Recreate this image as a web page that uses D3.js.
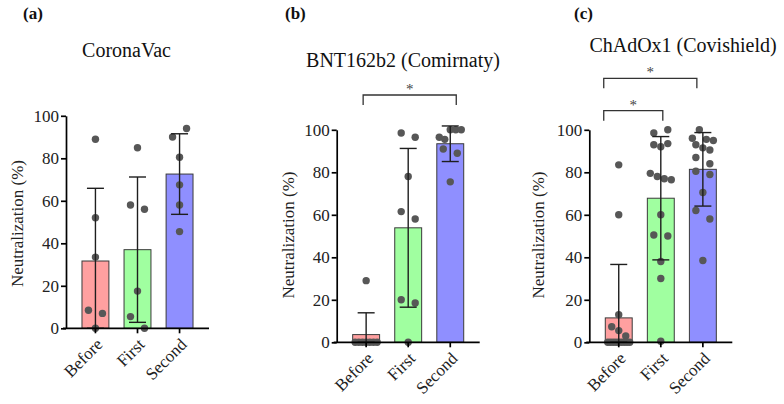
<!DOCTYPE html>
<html>
<head>
<meta charset="utf-8">
<script src="https://cdn.jsdelivr.net/npm/d3@7"></script>
</head>
<body style="margin:0">
<svg id="chart" width="784" height="404"></svg>
<script>
// ---------------- DATA ----------------
const categories = ["Before", "First", "Second"];
const panelLabels = ["(a)", "(b)", "(c)"];
const titles = ["CoronaVac", "BNT162b2 (Comirnaty)", "ChAdOx1 (Covishield)"];
const yTicks = [0, 20, 40, 60, 80, 100];
const yLabel = "Neutralization (%)";

// (a) CoronaVac – individual neutralization values (%)
const coronaVacBefore = [89, 52, 33.5, 8.5, 7, 0];
const coronaVacFirst  = [85, 58, 56, 17.5, 5.5, 0];
const coronaVacSecond = [90, 94, 80.5, 67.5, 58, 45.5];

// (b) BNT162b2 (Comirnaty)
const bntBefore = [29, 0, 0, 0, 0, 0, 0, 0];
const bntFirst  = [98.5, 96.5, 78, 61.5, 58, 20, 18.5, 0];
const bntSecond = [96.5, 95.5, 100, 100, 100, 91, 89, 75.5];

// (c) ChAdOx1 (Covishield)
const chadBefore = [83.5, 60, 13, 7.3, 5.5, 3, 0, 0, 0, 0, 0, 0, 0, 0, 0];
const chadFirst  = [98.5, 100, 93, 92, 93.5, 79.5, 78, 77, 76.5, 60, 50.5, 50, 38, 30, 0.5];
const chadSecond = [96, 100, 95.5, 95, 93, 91.5, 90.5, 87, 84, 80.5, 79, 70.5, 62, 58, 38.5];

// significance brackets: [from, to, label]
const sigA = [];
const sigB = [["Before", "Second", "*"]];
const sigC = [["Before", "Second", "*"], ["Before", "First", "*"]];

const seriesByPanel = [
  [coronaVacBefore, coronaVacFirst, coronaVacSecond],
  [bntBefore, bntFirst, bntSecond],
  [chadBefore, chadFirst, chadSecond]
];
const sigByPanel = [sigA, sigB, sigC];

// ---------------- LAYOUT / STYLE ----------------
const FONT = "Liberation Serif";
const barColors = ["#FFA0A0", "#A0FFA0", "#8F8FFF"];
const layout = [
  { x0: 66,    yb: 328.3, title: [126.5, 57], label: [23, 19],  ylab: [22.5, 223.5], brackets: [] },
  { x0: 336.7, yb: 342.3, title: [403, 67],   label: [285, 19], ylab: [294, 235],
    brackets: [{ y: 95, dl: -3, dr: 6 }] },
  { x0: 589.3, yb: 342.3, title: [683, 52],   label: [574, 19], ylab: [544, 235],
    brackets: [{ y: 78.3, dl: -15, dr: -6 }, { y: 110.7, dl: -15, dr: 2 }] }
];
const plotW = 143, plotH = 212.5;
const dotR = 3.7;

const svg = d3.select("#chart");

function serif(sel, size) {
  return sel.attr("font-family", FONT).style("font-family", FONT)
    .attr("font-size", size).style("font-size", size + "px");
}

// group-based symmetric jitter (GraphPad-like)
function swarmOffsets(values, y) {
  const order = values.map((v, i) => i).sort((a, b) => values[b] - values[a] || a - b);
  const offs = new Array(values.length).fill(0);
  let groups = [], cur = null;
  order.forEach(i => {
    if (cur && Math.abs(y(values[i]) - y(values[cur[0]])) < 12) cur.push(i);
    else { cur = [i]; groups.push(cur); }
  });
  groups.forEach(g => {
    const n = g.length;
    if (n < 2) return;
    const sp = n === 2 ? 14 : Math.min(7, 22 / (n - 1));
    g.slice().sort((a, b) => a - b).forEach((idx, k) => {
      offs[idx] = (k - (n - 1) / 2) * sp;
    });
  });
  return offs;
}

layout.forEach((L, p) => {
  const g = svg.append("g");
  const x = d3.scaleBand().domain(categories)
    .range([L.x0, L.x0 + plotW]).paddingInner(0.36).paddingOuter(0.38);
  const y = d3.scaleLinear().domain([0, 100]).range([L.yb, L.yb - plotH]);
  const bw = x.bandwidth();
  const series = seriesByPanel[p];

  const stats = series.map((vals, i) => {
    const m = d3.mean(vals), sd = d3.deviation(vals);
    return { cat: categories[i], mean: m, lo: Math.max(0, m - sd), hi: m + sd, vals };
  });

  // bars
  g.selectAll("rect.bar").data(stats).join("rect")
    .attr("x", d => x(d.cat)).attr("width", bw)
    .attr("y", d => y(d.mean)).attr("height", d => y(0) - y(d.mean))
    .attr("fill", (d, i) => barColors[i])
    .attr("stroke", "#3a3a3a").attr("stroke-width", 1);

  // points
  stats.forEach(s => {
    const offs = swarmOffsets(s.vals, y);
    g.append("g").selectAll("circle").data(s.vals).join("circle")
      .attr("cx", (v, i) => x(s.cat) + bw / 2 + offs[i])
      .attr("cy", v => y(v))
      .attr("r", dotR)
      .attr("fill", "#575757");
  });

  // error bars
  const eb = g.selectAll("g.eb").data(stats).join("g")
    .attr("stroke", "#1e1e1e").attr("stroke-width", 1.4);
  eb.append("line")
    .attr("x1", d => x(d.cat) + bw / 2).attr("x2", d => x(d.cat) + bw / 2)
    .attr("y1", d => y(d.lo)).attr("y2", d => y(d.hi));
  eb.append("line")
    .attr("x1", d => x(d.cat) + bw / 2 - 8.5).attr("x2", d => x(d.cat) + bw / 2 + 8.5)
    .attr("y1", d => y(d.hi)).attr("y2", d => y(d.hi));
  eb.append("line")
    .attr("x1", d => x(d.cat) + bw / 2 - 8.5).attr("x2", d => x(d.cat) + bw / 2 + 8.5)
    .attr("y1", d => y(d.lo)).attr("y2", d => y(d.lo));

  // y axis
  const ya = g.append("g").attr("transform", `translate(${L.x0},0)`)
    .call(d3.axisLeft(y).tickValues(yTicks).tickSize(5).tickPadding(2).tickSizeOuter(0));
  serif(ya, 17);
  ya.select(".domain").attr("stroke", "#000").attr("stroke-width", 1.7);
  ya.selectAll(".tick line").attr("stroke", "#000").attr("stroke-width", 1.7);
  serif(ya.selectAll(".tick text"), 17).attr("fill", "#222");

  // x axis
  const xa = g.append("g").attr("transform", `translate(0,${L.yb})`)
    .call(d3.axisBottom(x).tickSize(5).tickSizeOuter(0));
  serif(xa, 17);
  xa.select(".domain").attr("stroke", "#000").attr("stroke-width", 1.7)
    .attr("d", `M${L.x0 - 3},0H${L.x0 + plotW}`);
  xa.selectAll(".tick line").attr("stroke", "#000").attr("stroke-width", 1.7);
  serif(xa.selectAll(".tick text"), 17).attr("fill", "#222")
    .attr("text-anchor", "end").attr("y", 0).attr("dy", "0.35em")
    .attr("transform", "translate(4,13) rotate(-45)");

  // y label
  serif(g.append("text"), 17)
    .attr("transform", `translate(${L.ylab[0]},${L.ylab[1]}) rotate(-90)`)
    .attr("text-anchor", "middle").attr("fill", "#222")
    .text(yLabel);

  // title & panel label
  serif(g.append("text"), 20).attr("x", L.title[0]).attr("y", L.title[1])
    .attr("text-anchor", "middle").attr("fill", "#111")
    .text(titles[p]);
  serif(g.append("text"), 17).attr("x", L.label[0]).attr("y", L.label[1])
    .attr("font-weight", "bold").attr("fill", "#111")
    .text(panelLabels[p]);

  // significance brackets
  sigByPanel[p].forEach((s, k) => {
    const B = L.brackets[k];
    const x1 = x(s[0]) + bw / 2 + B.dl, x2 = x(s[1]) + bw / 2 + B.dr;
    g.append("path")
      .attr("d", `M${x1},${B.y + 10}V${B.y}H${x2}V${B.y + 10}`)
      .attr("fill", "none").attr("stroke", "#333").attr("stroke-width", 1.3);
    serif(g.append("text"), 15).attr("x", (x1 + x2) / 2).attr("y", B.y - 1)
      .attr("text-anchor", "middle").attr("fill", "#444")
      .text(s[2]);
  });
});
</script>
</body>
</html>
